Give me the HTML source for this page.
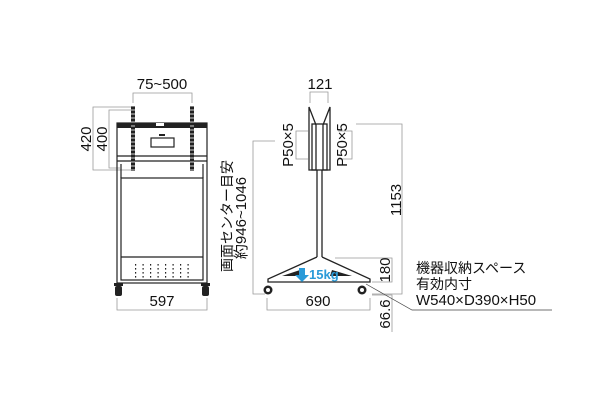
<!DOCTYPE html>
<html><head><meta charset="utf-8"><style>
html,body{margin:0;padding:0;background:#fff;}
svg{display:block;}
text{font-family:"Liberation Sans","Noto Sans CJK JP",sans-serif;fill:#111;}
</style></head><body>
<svg width="600" height="400" viewBox="0 0 600 400" xmlns="http://www.w3.org/2000/svg">
<defs>
<pattern id="holes" width="2" height="4" patternUnits="userSpaceOnUse"><rect width="2" height="4" fill="#222"/><rect x="0.6" y="1" width="0.8" height="2" fill="#fff"/></pattern>
<pattern id="dots" width="7.5" height="4" patternUnits="userSpaceOnUse"><rect x="0" y="0" width="1.2" height="1.6" fill="#222"/></pattern>
</defs>
<g stroke="#999" stroke-width="0.8" fill="none">
<polyline points="133,103 133,93 192,93 192,103"/>
<polyline points="131,107 93,107 93,170 131,170"/>
<polyline points="131,110 109,110 109,168 120,168"/>
<polyline points="117,298 117,310 207,310 207,298"/>
<polyline points="275,141 253,141 253,294 265,294"/>
<polyline points="310,103 310,92 328,92 328,103"/>
<polyline points="308,131 296,131 296,159 308,159"/>
<polyline points="338,131 352,131 352,159 338,159"/>
<polyline points="356,124 402,124 402,294 372,294"/>
<polyline points="335,258 392,258 392,282 372,282"/>
<polyline points="372,295 392,295 392,332"/>
<polyline points="267,298 267,310 370,310 370,298"/>
</g>
<polyline points="366,284 412,310 552,310" stroke="#444" stroke-width="0.7" fill="none"/>
<g stroke="#222" fill="none" stroke-width="1.2">
<rect x="117" y="123" width="90" height="160"/>
<line x1="117" y1="156" x2="207" y2="156"/>
<line x1="117" y1="161" x2="207" y2="161"/>
<rect x="121" y="178" width="82" height="102"/>
<line x1="121" y1="257" x2="203" y2="257"/>
<line x1="121" y1="164" x2="121" y2="178"/><line x1="203" y1="164" x2="203" y2="178"/>
<rect x="151" y="138" width="23" height="9"/>
</g>
<rect x="117" y="123" width="90" height="5" fill="#222"/>
<rect x="156" y="123" width="8" height="3" fill="#fff"/>
<rect x="159" y="134" width="6" height="2" fill="#222"/>
<rect x="131" y="106" width="4" height="65" fill="url(#holes)"/>
<rect x="190" y="106" width="4" height="65" fill="url(#holes)"/>
<rect x="133" y="262" width="60" height="16" fill="url(#dots)"/>
<g fill="#222">
<rect x="114" y="283" width="9" height="3"/><rect x="115" y="286" width="7" height="10" rx="2"/>
<rect x="201" y="283" width="9" height="3"/><rect x="202" y="286" width="7" height="10" rx="2"/>
</g>
<g stroke="#222" fill="none" stroke-width="1.3">
<path d="M309,107 L316,125 L316,170 L309,170 Z"/>
<path d="M330,107 L323,125 L323,170 L330,170 Z"/>
<rect x="312" y="124" width="15" height="46"/>
<line x1="317" y1="170" x2="317" y2="257"/><line x1="322" y1="170" x2="322" y2="257"/>
<path d="M317,257 L268,279 L268,282 L370,282 L370,279 L322,257"/>
</g>
<g fill="#222">
<path d="M282,276 L300,270 L303,276 Z"/><path d="M332,270 L352,276 L330,276 Z"/>
<circle cx="268" cy="290" r="4.5"/><circle cx="362" cy="290" r="4.5"/>
</g>
<circle cx="268" cy="290" r="2" fill="#fff"/><circle cx="362" cy="290" r="2" fill="#fff"/>
<path d="M299,268 h6 v7 h4 l-7,7 l-7,-7 h4 z" fill="#2a9ad8"/>
<text x="309" y="279" font-size="13" font-weight="bold" style="fill:#2a9ad8">15kg</text>
<g font-size="15">
<text x="162" y="89" text-anchor="middle">75~500</text>
<text x="162" y="306" text-anchor="middle">597</text>
<text x="320" y="89" text-anchor="middle">121</text>
<text x="318" y="306" text-anchor="middle">690</text>
<text transform="translate(91,139) rotate(-90)" text-anchor="middle">420</text>
<text transform="translate(107,139) rotate(-90)" text-anchor="middle">400</text>
<text transform="translate(246,218) rotate(-90)" text-anchor="middle">約946~1046</text>
<text transform="translate(293,145) rotate(-90)" text-anchor="middle">P50×5</text>
<text transform="translate(347,145) rotate(-90)" text-anchor="middle">P50×5</text>
<text transform="translate(401,200) rotate(-90)" text-anchor="middle">1153</text>
<text transform="translate(390,270) rotate(-90)" text-anchor="middle">180</text>
<text transform="translate(390,314) rotate(-90)" text-anchor="middle">66.6</text>
<text x="416" y="305">W540×D390×H50</text>
</g>
<g font-size="14">
<text transform="translate(232,216) rotate(-90)" text-anchor="middle">画面センター目安</text>
<text x="416" y="273">機器収納スペース</text>
<text x="416" y="289">有効内寸</text>
</g>
</svg>
</body></html>
